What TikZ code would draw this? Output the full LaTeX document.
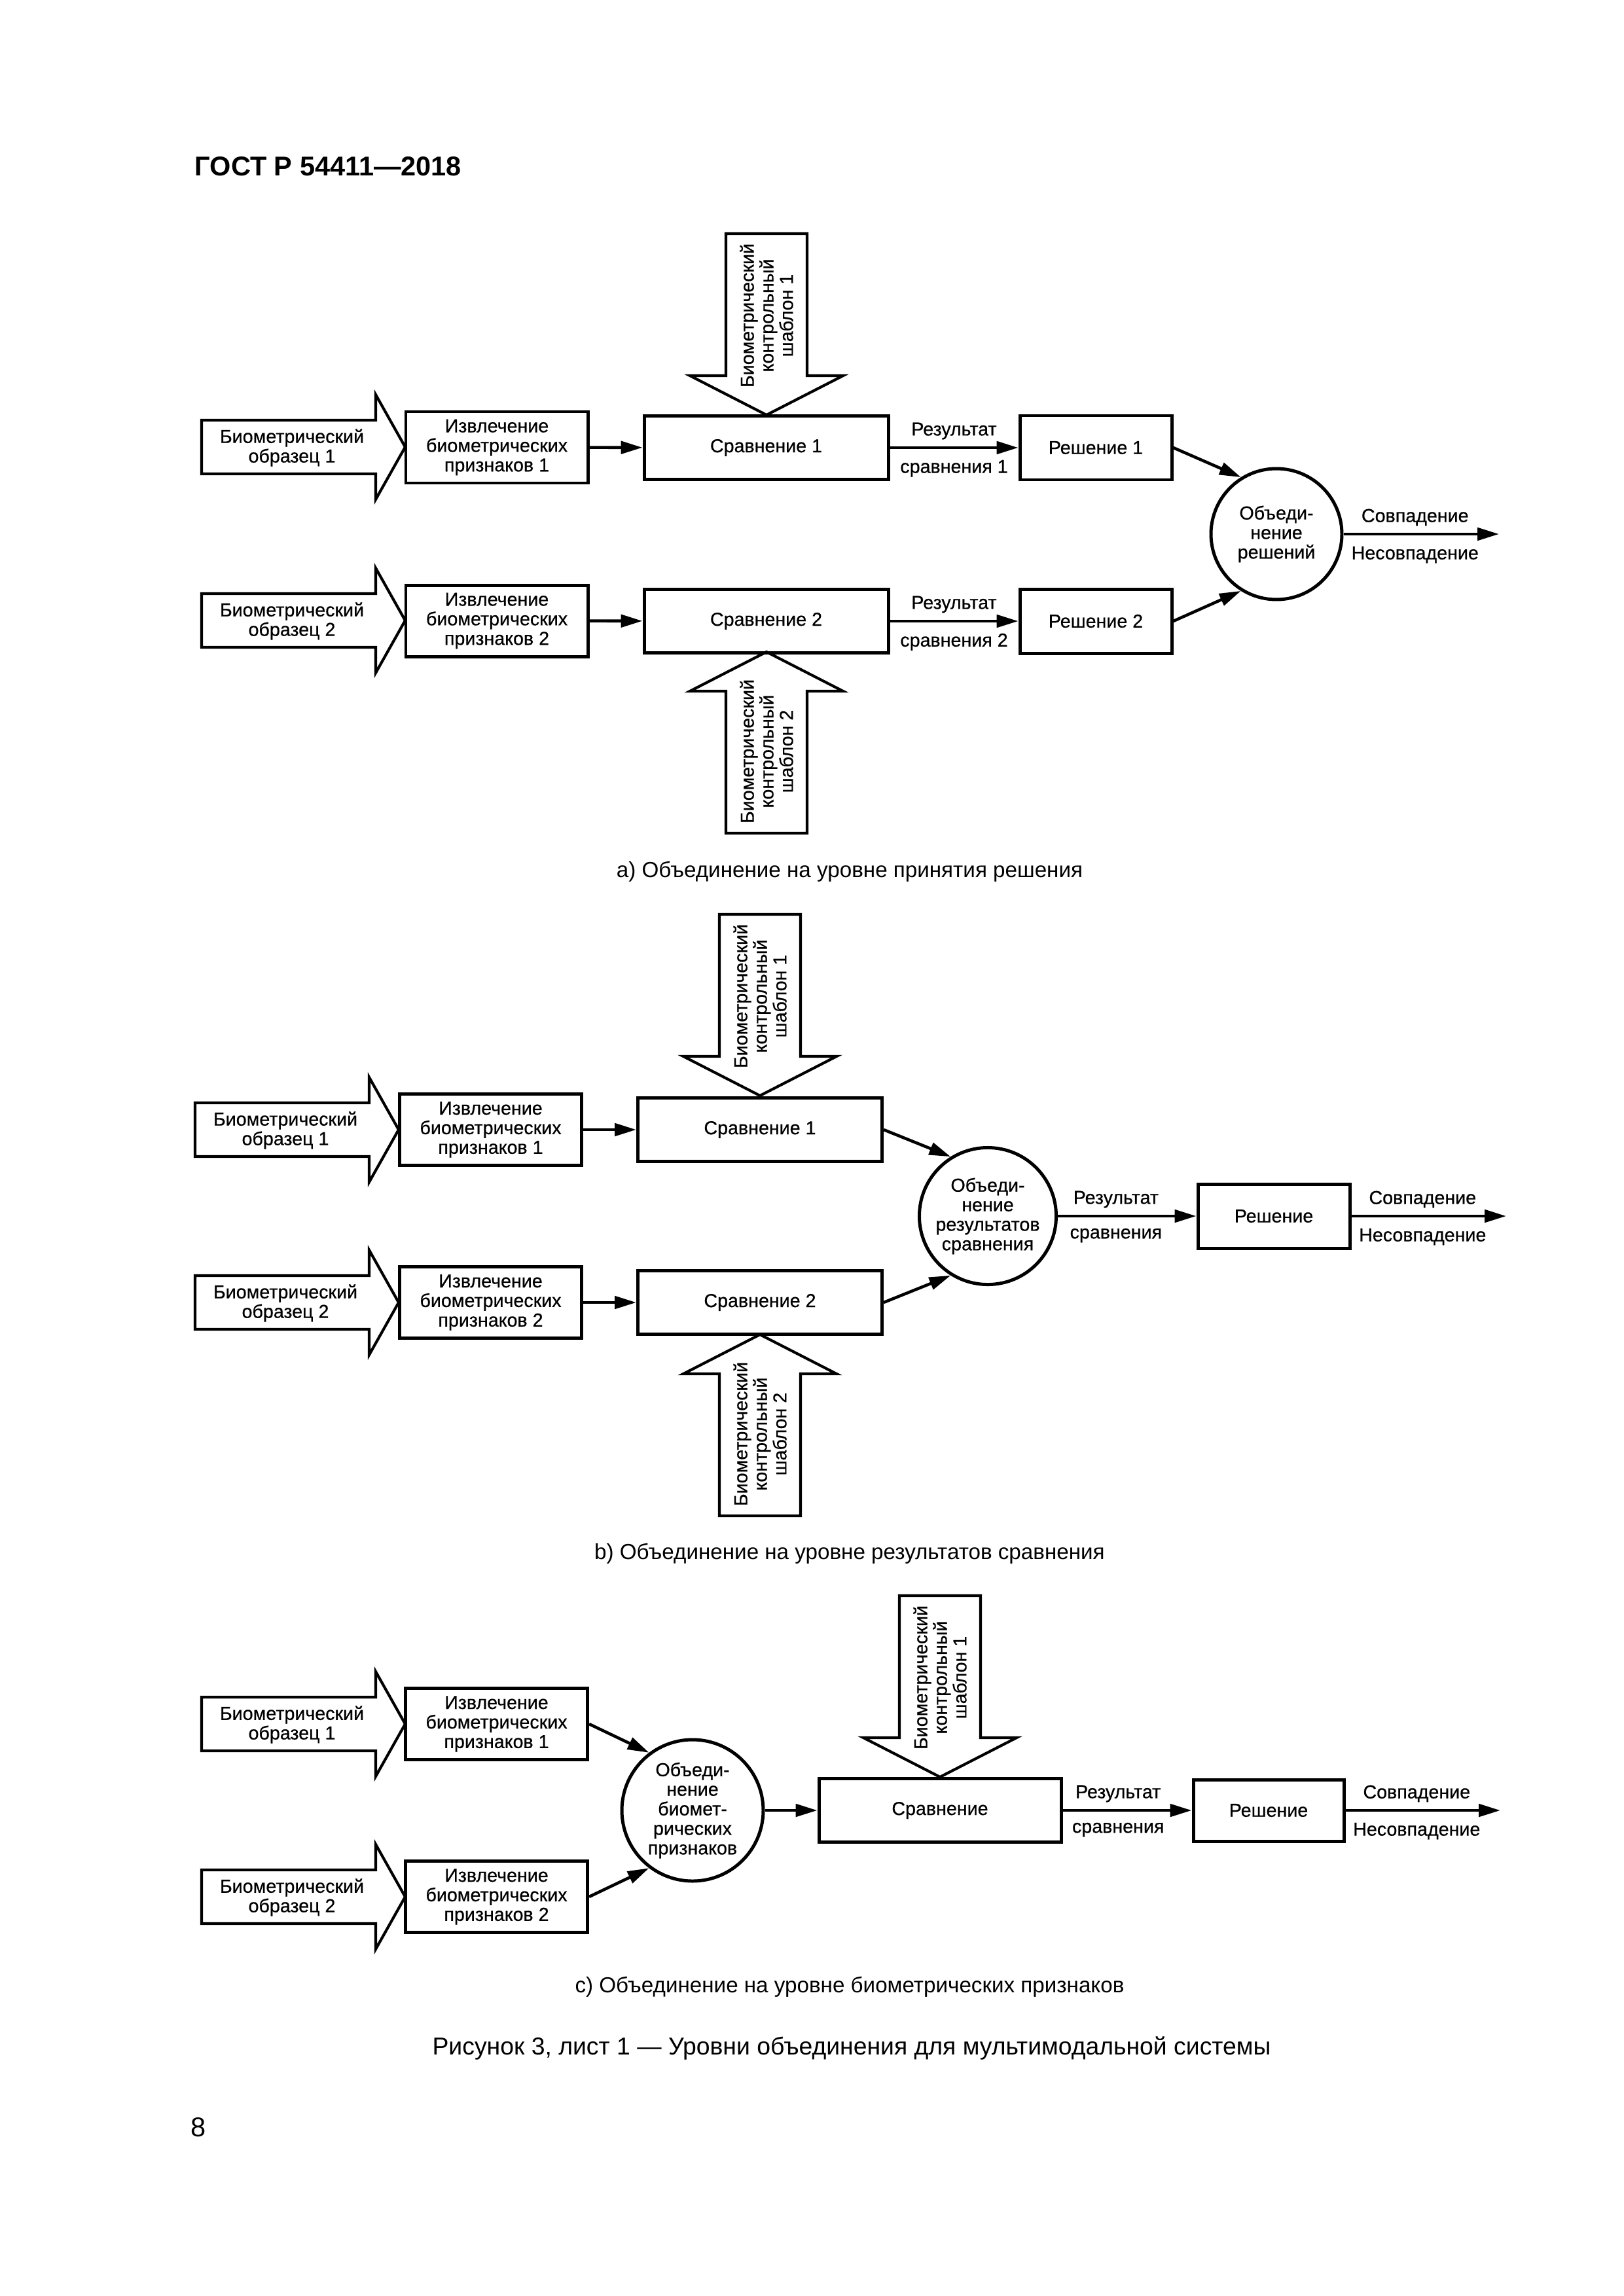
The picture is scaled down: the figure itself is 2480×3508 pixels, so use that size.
\documentclass[tikz,border=0pt]{standalone}
\usepackage{fontspec}
\setmainfont{Liberation Sans}
\newfontfamily\diagfont{Liberation Sans}[FakeBold=0.6]
\usetikzlibrary{arrows.meta}
\newcommand{\pxl}{0.0084677cm}

\tikzset{
	txt/.style={font=\diagfont\fontsize{6.9}{7.2}\selectfont, align=center, inner sep=1pt},
	box/.style={txt, draw, line width=1.2pt},
	extbox/.style={box, minimum width=278*\pxl, minimum height=109*\pxl},
	cmpbox/.style={box, minimum width=373*\pxl, minimum height=97*\pxl},
	decbox/.style={box, minimum width=232*\pxl, minimum height=98*\pxl},
	fusion/.style={txt, draw, circle, line width=1.2pt, minimum size=#1*\pxl},
	conn/.style={-{Triangle[length=7.9pt,width=4.6pt]}, line width=1.1pt},
	fat/.style={draw, line width=1pt, line join=miter},
	lblup/.style={txt, above=1.5pt},
	lbldn/.style={txt, below=3pt},
	capt/.style={anchor=base, font=\fontsize{8}{10}\selectfont},
	sample/.pic={\draw[fat] (-133,-41) -- (133,-41) -- (133,-80) -- (178,0) -- (133,80) -- (133,41) -- (-133,41) -- cycle;},
	templ/.pic={\draw[fat] (-62,-217) -- (62,-217) -- (62,0) -- (117,0) -- (0,60) -- (-117,0) -- (-62,0) -- cycle;}
}

\begin{document}
\begin{tikzpicture}[x=0.0084677cm, y=-0.0084677cm]
	\useasboundingbox (0,0) rectangle (2480,3508);
	\node[anchor=base west, font=\bfseries\fontsize{10}{12}\selectfont, inner sep=0pt] (hdr) at (297,268) {ГОСТ Р 54411—2018};

	% a)
	\pic at (441,683) {sample};
	\pic at (441,948) {sample};
	\node[txt] (smpA1) at (446,684) {Биометрический\\образец 1};
	\node[txt] (smpA2) at (446,949) {Биометрический\\образец 2};
	\node[extbox] (extA1) at (759,683.5) {Извлечение\\биометрических\\признаков 1};
	\node[extbox] (extA2) at (759,948.5) {Извлечение\\биометрических\\признаков 2};
	\node[cmpbox] (cmpA1) at (1170.5,684) {Сравнение 1};
	\node[cmpbox] (cmpA2) at (1170.5,949) {Сравнение 2};
	\pic at (1171,574) {templ};
	\pic[yscale=-1] at (1171,1056) {templ};
	\node[txt, rotate=90] (tplA1) at (1171,482) {Биометрический\\контрольный\\шаблон 1};
	\node[txt, rotate=90] (tplA2) at (1171,1148) {Биометрический\\контрольный\\шаблон 2};
	\node[decbox] (decA1) at (1674,684) {Решение 1};
	\node[decbox] (decA2) at (1674,949) {Решение 2};
	\node[fusion=200] (fuseA) at (1950,816) {Объеди-\\нение\\решений};
	\coordinate (outA) at (2290,816);
	\draw[conn] (extA1) -- (cmpA1);
	\draw[conn] (extA2) -- (cmpA2);
	\draw[conn] (cmpA1) -- (decA1) node[midway, lblup] {Результат} node[midway, lbldn] {сравнения 1};
	\draw[conn] (cmpA2) -- (decA2) node[midway, lblup] {Результат} node[midway, lbldn] {сравнения 2};
	\draw[conn] (decA1.east) -- (fuseA.122);
	\draw[conn] (decA2.east) -- (fuseA.238);
	\draw[conn] (fuseA) -- (outA) node[pos=0.46, lblup] {Совпадение} node[pos=0.46, lbldn] {Несовпадение};
	\node[capt] (capA) at (1298,1340) {a) Объединение на уровне принятия решения};

	% b)
	\pic at (431,1726) {sample};
	\pic at (431,1990) {sample};
	\node[txt] (smpB1) at (436,1727) {Биометрический\\образец 1};
	\node[txt] (smpB2) at (436,1991) {Биометрический\\образец 2};
	\node[extbox] (extB1) at (749.5,1726) {Извлечение\\биометрических\\признаков 1};
	\node[extbox] (extB2) at (749.5,1990) {Извлечение\\биометрических\\признаков 2};
	\node[cmpbox] (cmpB1) at (1161,1726) {Сравнение 1};
	\node[cmpbox] (cmpB2) at (1161,1990) {Сравнение 2};
	\pic at (1161,1614) {templ};
	\pic[yscale=-1] at (1161,2099) {templ};
	\node[txt, rotate=90] (tplB1) at (1161,1522) {Биометрический\\контрольный\\шаблон 1};
	\node[txt, rotate=90] (tplB2) at (1161,2191) {Биометрический\\контрольный\\шаблон 2};
	\node[fusion=204] (fuseB) at (1509,1858) {Объеди-\\нение\\результатов\\сравнения};
	\node[decbox] (decB) at (1946,1858) {Решение};
	\coordinate (outB) at (2301,1858);
	\draw[conn] (extB1) -- (cmpB1);
	\draw[conn] (extB2) -- (cmpB2);
	\draw[conn] (cmpB1.east) -- (fuseB.122);
	\draw[conn] (cmpB2.east) -- (fuseB.238);
	\draw[conn] (fuseB) -- (decB) node[pos=0.42, lblup] {Результат} node[pos=0.42, lbldn] {сравнения};
	\draw[conn] (decB) -- (outB) node[pos=0.46, lblup] {Совпадение} node[pos=0.46, lbldn] {Несовпадение};
	\node[capt] (capB) at (1298,2382) {b) Объединение на уровне результатов сравнения};

	% c)
	\pic at (441,2634) {sample};
	\pic at (441,2898) {sample};
	\node[txt] (smpC1) at (446,2635) {Биометрический\\образец 1};
	\node[txt] (smpC2) at (446,2899) {Биометрический\\образец 2};
	\node[extbox] (extC1) at (758.5,2634) {Извлечение\\биометрических\\признаков 1};
	\node[extbox] (extC2) at (758.5,2898) {Извлечение\\биометрических\\признаков 2};
	\node[fusion=216] (fuseC) at (1058,2766) {Объеди-\\нение\\биомет-\\рических\\признаков};
	\node[cmpbox, minimum width=370*\pxl] (cmpC) at (1436,2766) {Сравнение};
	\pic at (1436,2655) {templ};
	\node[txt, rotate=90] (tplC) at (1436,2563) {Биометрический\\контрольный\\шаблон 1};
	\node[decbox, minimum width=230*\pxl, minimum height=94*\pxl] (decC) at (1938,2766) {Решение};
	\coordinate (outC) at (2292,2766);
	\draw[conn] (extC1.east) -- (fuseC.127);
	\draw[conn] (extC2.east) -- (fuseC.233);
	\draw[conn] (fuseC) -- (cmpC);
	\draw[conn] (cmpC) -- (decC) node[pos=0.43, lblup] {Результат} node[pos=0.43, lbldn] {сравнения};
	\draw[conn] (decC) -- (outC) node[pos=0.46, lblup] {Совпадение} node[pos=0.46, lbldn] {Несовпадение};
	\node[capt] (capC) at (1298,3044) {c) Объединение на уровне биометрических признаков};

	\node[anchor=base, font=\fontsize{9}{11}\selectfont] (fig) at (1301,3139) {Рисунок 3, лист 1 — Уровни объединения для мультимодальной системы};
	\node[anchor=base west, font=\fontsize{10}{12}\selectfont, inner sep=0pt] (pg) at (291,3264) {8};
\end{tikzpicture}
\end{document}
